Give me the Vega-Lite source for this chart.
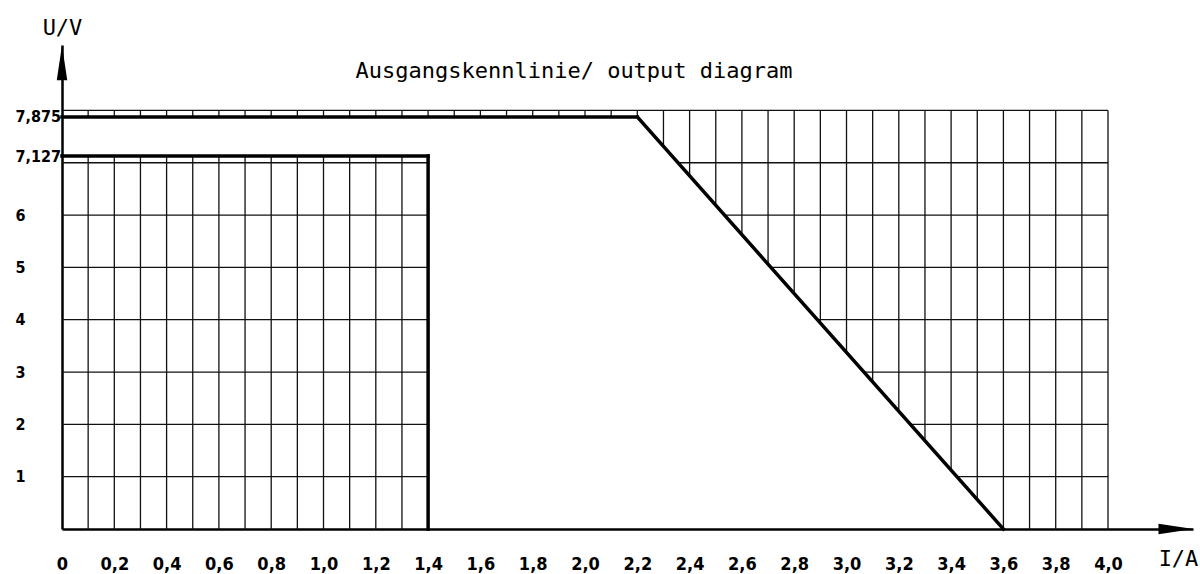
{
  "$schema": "https://vega.github.io/schema/vega-lite/v6.json",
  "autosize": {"type": "none"},
  "padding": {"left": 62, "top": 45, "right": 7, "bottom": 45},
  "width": 1131,
  "height": 484,
  "background": "white",
  "config": {
    "view": {"stroke": null},
    "axisX": {
      "grid": false, "ticks": false, "tickSize": 0, "domainColor": "black", "domainWidth": 2.5,
      "labelFont": "DejaVu Sans Condensed, Liberation Sans Narrow, Roboto Condensed, Liberation Sans", "labelFontSize": 18, "labelFontWeight": "bold", "labelColor": "black",
      "labelPadding": 35, "labelBaseline": "middle", "labelFlush": false, "labelOverlap": false, "labelBound": false,
      "titleFont": "DejaVu Sans Mono", "titleFontSize": 22, "titleFontWeight": "normal", "titleColor": "black",
      "titleX": 1116, "titleY": 29, "titleAlign": "center", "titleBaseline": "middle", "titleAngle": 0
    },
    "axisY": {
      "grid": false, "ticks": false, "tickSize": 0, "domainColor": "black", "domainWidth": 2.5,
      "labelFont": "DejaVu Sans Condensed, Liberation Sans Narrow, Roboto Condensed, Liberation Sans", "labelFontSize": 16, "labelFontWeight": "bold", "labelColor": "black",
      "labelPadding": 47, "labelAlign": "left", "labelBaseline": "middle", "labelFlush": false, "labelOverlap": false, "labelBound": false,
      "titleFont": "DejaVu Sans Mono", "titleFontSize": 22, "titleFontWeight": "normal", "titleColor": "black",
      "titleX": 0, "titleY": -18, "titleAlign": "center", "titleBaseline": "middle", "titleAngle": 0
    }
  },
  "datasets": {
    "vgrid": [
      {"x": 0.1, "y": 0, "y2": 7.127}, {"x": 0.2, "y": 0, "y2": 7.127}, {"x": 0.3, "y": 0, "y2": 7.127},
      {"x": 0.4, "y": 0, "y2": 7.127}, {"x": 0.5, "y": 0, "y2": 7.127}, {"x": 0.6, "y": 0, "y2": 7.127},
      {"x": 0.7, "y": 0, "y2": 7.127}, {"x": 0.8, "y": 0, "y2": 7.127}, {"x": 0.9, "y": 0, "y2": 7.127},
      {"x": 1.0, "y": 0, "y2": 7.127}, {"x": 1.1, "y": 0, "y2": 7.127}, {"x": 1.2, "y": 0, "y2": 7.127},
      {"x": 1.3, "y": 0, "y2": 7.127},
      {"x": 0.1, "y": 7.875, "y2": 8}, {"x": 0.2, "y": 7.875, "y2": 8}, {"x": 0.3, "y": 7.875, "y2": 8},
      {"x": 0.4, "y": 7.875, "y2": 8}, {"x": 0.5, "y": 7.875, "y2": 8}, {"x": 0.6, "y": 7.875, "y2": 8},
      {"x": 0.7, "y": 7.875, "y2": 8}, {"x": 0.8, "y": 7.875, "y2": 8}, {"x": 0.9, "y": 7.875, "y2": 8},
      {"x": 1.0, "y": 7.875, "y2": 8}, {"x": 1.1, "y": 7.875, "y2": 8}, {"x": 1.2, "y": 7.875, "y2": 8},
      {"x": 1.3, "y": 7.875, "y2": 8}, {"x": 1.4, "y": 7.875, "y2": 8}, {"x": 1.5, "y": 7.875, "y2": 8},
      {"x": 1.6, "y": 7.875, "y2": 8}, {"x": 1.7, "y": 7.875, "y2": 8}, {"x": 1.8, "y": 7.875, "y2": 8},
      {"x": 1.9, "y": 7.875, "y2": 8}, {"x": 2.0, "y": 7.875, "y2": 8}, {"x": 2.1, "y": 7.875, "y2": 8},
      {"x": 2.2, "y": 7.875, "y2": 8}, {"x": 2.3, "y": 7.3125, "y2": 8}, {"x": 2.4, "y": 6.75, "y2": 8},
      {"x": 2.5, "y": 6.1875, "y2": 8}, {"x": 2.6, "y": 5.625, "y2": 8}, {"x": 2.7, "y": 5.0625, "y2": 8},
      {"x": 2.8, "y": 4.5, "y2": 8}, {"x": 2.9, "y": 3.9375, "y2": 8}, {"x": 3.0, "y": 3.375, "y2": 8},
      {"x": 3.1, "y": 2.8125, "y2": 8}, {"x": 3.2, "y": 2.25, "y2": 8}, {"x": 3.3, "y": 1.6875, "y2": 8},
      {"x": 3.4, "y": 1.125, "y2": 8}, {"x": 3.5, "y": 0.5625, "y2": 8}, {"x": 3.6, "y": 0, "y2": 8},
      {"x": 3.7, "y": 0, "y2": 8}, {"x": 3.8, "y": 0, "y2": 8}, {"x": 3.9, "y": 0, "y2": 8},
      {"x": 4.0, "y": 0, "y2": 8}
    ],
    "hgrid": [
      {"y": 1, "x": 0, "x2": 1.4}, {"y": 2, "x": 0, "x2": 1.4}, {"y": 3, "x": 0, "x2": 1.4},
      {"y": 4, "x": 0, "x2": 1.4}, {"y": 5, "x": 0, "x2": 1.4}, {"y": 6, "x": 0, "x2": 1.4},
      {"y": 7, "x": 0, "x2": 1.4},
      {"y": 1, "x": 3.4222, "x2": 4.0}, {"y": 2, "x": 3.2444, "x2": 4.0}, {"y": 3, "x": 3.0667, "x2": 4.0},
      {"y": 4, "x": 2.8889, "x2": 4.0}, {"y": 5, "x": 2.7111, "x2": 4.0}, {"y": 6, "x": 2.5333, "x2": 4.0},
      {"y": 7, "x": 2.3556, "x2": 4.0}, {"y": 8, "x": 0, "x2": 4.0}
    ],
    "curves": [
      {"x": 0, "y": 7.875, "x2": 2.2, "y2": 7.875},
      {"x": 2.2, "y": 7.875, "x2": 3.6, "y2": 0},
      {"x": 0, "y": 7.127, "x2": 1.4, "y2": 7.127},
      {"x": 1.4, "y": 7.127, "x2": 1.4, "y2": 0}
    ],
    "title": [{"label": "Ausgangskennlinie/ output diagram"}]
  },
  "layer": [
    {
      "data": {"name": "vgrid"},
      "mark": {"type": "rule", "color": "#111111", "strokeWidth": 1.3},
      "encoding": {
        "x": {"field": "x", "type": "quantitative", "scale": {"domain": [0, 4.325], "nice": false, "zero": false},
          "axis": {"title": "I/A", "values": [0, 0.2, 0.4, 0.6, 0.8, 1.0, 1.2, 1.4, 1.6, 1.8, 2.0, 2.2, 2.4, 2.6, 2.8, 3.0, 3.2, 3.4, 3.6, 3.8, 4.0],
            "labelExpr": "datum.value == 0 ? '0' : replace(format(datum.value, '.1f'), '.', ',')"}},
        "y": {"field": "y", "type": "quantitative", "scale": {"domain": [0, 9.25], "nice": false, "zero": false},
          "axis": {"title": "U/V", "values": [1, 2, 3, 4, 5, 6, 7.127, 7.875],
            "labelExpr": "datum.value == 7.127 ? '7,127' : datum.value == 7.875 ? '7,875' : format(datum.value, 'd')"}},
        "y2": {"field": "y2"}
      }
    },
    {
      "data": {"name": "hgrid"},
      "mark": {"type": "rule", "color": "#111111", "strokeWidth": 1.3},
      "encoding": {
        "x": {"field": "x", "type": "quantitative"},
        "x2": {"field": "x2"},
        "y": {"field": "y", "type": "quantitative"}
      }
    },
    {
      "data": {"name": "curves"},
      "mark": {"type": "rule", "color": "black", "strokeWidth": 3.5, "strokeCap": "square"},
      "encoding": {
        "x": {"field": "x", "type": "quantitative"},
        "x2": {"field": "x2"},
        "y": {"field": "y", "type": "quantitative"},
        "y2": {"field": "y2"}
      }
    },
    {
      "data": {"name": "title"},
      "mark": {"type": "point", "shape": "M-1,-0.3L1,0L-1,0.3Z", "size": 1225, "filled": true, "color": "black", "opacity": 1, "strokeWidth": 0},
      "encoding": {
        "x": {"datum": 4.26, "type": "quantitative"},
        "y": {"datum": 0, "type": "quantitative"}
      }
    },
    {
      "data": {"name": "title"},
      "mark": {"type": "point", "shape": "M-0.3,1L0,-1L0.3,1Z", "size": 1225, "filled": true, "color": "black", "opacity": 1, "strokeWidth": 0},
      "encoding": {
        "x": {"datum": 0, "type": "quantitative"},
        "y": {"datum": 8.91, "type": "quantitative"}
      }
    },
    {
      "data": {"name": "title"},
      "mark": {"type": "text", "font": "DejaVu Sans Mono", "fontSize": 22, "color": "black", "align": "center", "baseline": "alphabetic"},
      "encoding": {
        "x": {"datum": 1.958, "type": "quantitative"},
        "y": {"datum": 8.62, "type": "quantitative"},
        "text": {"field": "label"}
      }
    }
  ]
}
